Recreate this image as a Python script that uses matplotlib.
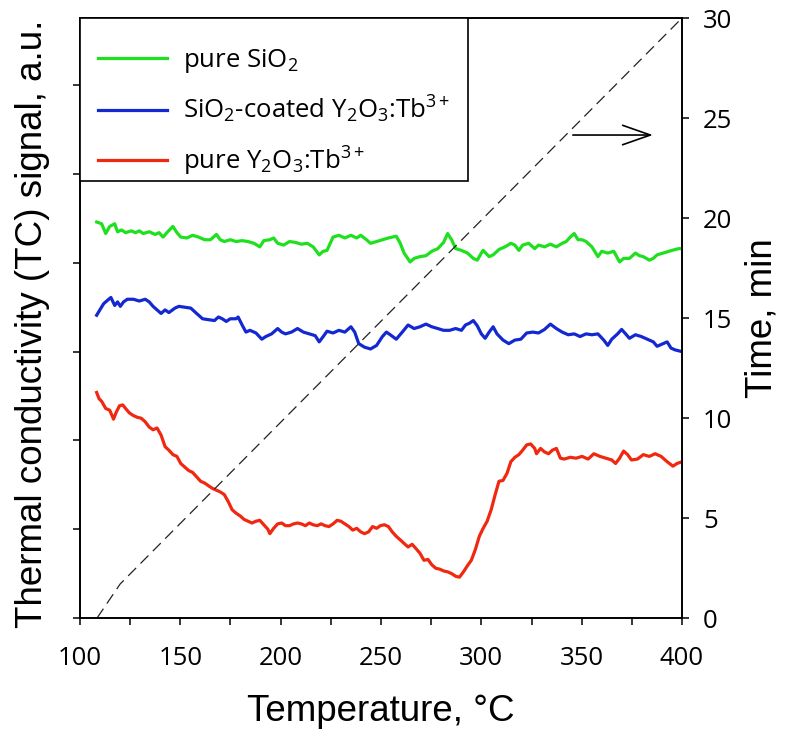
import matplotlib
matplotlib.use('Agg')
import matplotlib.pyplot as plt
from matplotlib.ticker import MultipleLocator
from matplotlib.font_manager import FontProperties
from matplotlib.path import Path

plt.rcParams['mathtext.fontset'] = 'custom'
plt.rcParams['mathtext.rm'] = 'Open Sans'
plt.rcParams['mathtext.it'] = 'Open Sans:italic'
plt.rcParams['mathtext.bf'] = 'Open Sans:bold'
plt.rcParams['mathtext.default'] = 'regular'

# ---------------- data ----------------
T_sio2 = [108.3, 110.8, 112.8, 114.8, 117.3, 118.7, 120.7, 122.7, 125.6, 127.6,
          129.6, 131.5, 134.5, 137.4, 139.4, 141.4, 143.7, 146.3, 148.3, 150.2,
          153.2, 156.1, 159.1, 162.1, 165.0, 168.0, 169.9, 171.9, 174.9, 177.8,
          180.8, 183.7, 186.7, 189.6, 191.6, 194.6, 196.5, 198.5, 201.5, 204.4,
          207.4, 210.3, 213.3, 216.2, 219.2, 221.2, 223.1, 226.1, 229.0, 232.0,
          235.0, 237.9, 239.9, 242.8, 244.8, 247.8, 250.7, 253.7, 257.6, 259.6,
          261.5, 264.5, 266.5, 269.4, 272.4, 275.3, 278.3, 281.2, 283.2, 285.2,
          287.2, 290.1, 293.1, 296.0, 298.0, 300.0, 300.9, 303.9, 305.9, 308.8,
          311.8, 314.7, 316.7, 318.7, 320.6, 323.6, 326.6, 328.5, 331.5, 334.4,
          337.4, 340.3, 342.3, 344.3, 346.3, 348.2, 350.2, 352.2, 355.1, 358.1,
          360.0, 363.0, 366.0, 368.9, 370.9, 373.8, 376.8, 378.8, 380.7, 383.7,
          385.7, 387.6, 390.6, 393.5, 396.5, 398.5, 400.0]
S_sio2 = [4.46, 4.44, 4.33, 4.41, 4.44, 4.35, 4.37, 4.34, 4.36, 4.34,
          4.36, 4.33, 4.35, 4.32, 4.34, 4.29, 4.35, 4.41, 4.34, 4.29,
          4.28, 4.31, 4.29, 4.26, 4.26, 4.32, 4.26, 4.24, 4.26, 4.24,
          4.25, 4.24, 4.22, 4.18, 4.25, 4.26, 4.28, 4.22, 4.20, 4.24,
          4.23, 4.21, 4.22, 4.18, 4.09, 4.13, 4.14, 4.29, 4.31, 4.28,
          4.31, 4.28, 4.31, 4.26, 4.22, 4.24, 4.26, 4.28, 4.30, 4.22,
          4.11, 4.01, 4.05, 4.07, 4.08, 4.13, 4.16, 4.23, 4.33, 4.26,
          4.16, 4.14, 4.11, 4.05, 4.03, 4.11, 4.14, 4.07, 4.09, 4.15,
          4.18, 4.22, 4.20, 4.14, 4.20, 4.22, 4.16, 4.20, 4.18, 4.21,
          4.18, 4.22, 4.24, 4.29, 4.33, 4.26, 4.26, 4.24, 4.18, 4.07,
          4.13, 4.11, 4.13, 4.01, 4.05, 4.05, 4.11, 4.08, 4.07, 4.03,
          4.05, 4.09, 4.11, 4.13, 4.15, 4.16, 4.16]

T_coated = [108.3, 109.9, 111.8, 113.8, 115.4, 117.3, 118.7, 120.1, 121.7, 123.6,
            126.6, 129.6, 132.5, 134.5, 136.4, 138.4, 140.4, 142.4, 144.3, 147.3,
            149.3, 152.2, 155.2, 158.1, 161.1, 164.0, 167.0, 169.0, 170.9, 172.9,
            174.9, 177.8, 178.8, 180.8, 182.7, 184.7, 187.7, 190.6, 192.6, 195.5,
            198.5, 200.5, 202.4, 205.4, 208.4, 211.3, 214.3, 217.2, 219.2, 221.2,
            223.1, 226.1, 229.0, 232.0, 235.0, 236.9, 238.9, 241.8, 244.8, 247.8,
            250.7, 252.7, 254.6, 257.6, 260.6, 263.5, 266.5, 269.4, 272.4, 275.3,
            278.3, 281.2, 284.2, 287.2, 290.1, 292.1, 294.1, 296.0, 298.0, 300.0,
            301.9, 303.9, 305.9, 307.8, 310.8, 313.7, 316.7, 319.7, 322.6, 325.6,
            328.5, 331.5, 334.4, 337.4, 340.3, 343.3, 346.3, 349.2, 352.2, 355.1,
            358.1, 361.0, 363.0, 365.0, 367.9, 369.9, 371.9, 373.8, 376.8, 379.7,
            382.7, 385.7, 387.6, 390.6, 392.6, 394.5, 396.5, 400.0]
S_coated = [3.41, 3.47, 3.54, 3.58, 3.61, 3.52, 3.56, 3.51, 3.56, 3.59,
            3.59, 3.57, 3.59, 3.56, 3.51, 3.47, 3.43, 3.47, 3.44, 3.49,
            3.51, 3.50, 3.49, 3.43, 3.37, 3.36, 3.35, 3.39, 3.37, 3.34,
            3.37, 3.37, 3.39, 3.30, 3.22, 3.24, 3.21, 3.14, 3.17, 3.20,
            3.26, 3.22, 3.20, 3.22, 3.26, 3.22, 3.20, 3.18, 3.11, 3.17,
            3.23, 3.21, 3.24, 3.22, 3.28, 3.22, 3.09, 3.05, 3.03, 3.07,
            3.17, 3.22, 3.19, 3.14, 3.22, 3.30, 3.26, 3.28, 3.31, 3.28,
            3.26, 3.24, 3.24, 3.26, 3.24, 3.30, 3.32, 3.35, 3.29, 3.20,
            3.15, 3.22, 3.28, 3.20, 3.13, 3.09, 3.13, 3.14, 3.21, 3.22,
            3.21, 3.25, 3.31, 3.26, 3.22, 3.19, 3.20, 3.17, 3.20, 3.19,
            3.20, 3.13, 3.07, 3.14, 3.20, 3.25, 3.20, 3.15, 3.19, 3.17,
            3.14, 3.11, 3.06, 3.09, 3.11, 3.04, 3.02, 3.00]

T_y2o3 = [108.3, 109.5, 110.8, 112.8, 114.8, 116.7, 118.1, 119.7, 121.3, 122.7,
          124.6, 126.6, 128.6, 130.5, 132.5, 134.5, 136.4, 138.4, 140.4, 142.4,
          144.3, 146.3, 148.3, 150.2, 152.2, 154.2, 156.1, 158.1, 160.1, 162.1,
          164.0, 166.0, 168.0, 169.9, 171.9, 173.9, 175.8, 177.8, 179.8, 181.8,
          183.7, 185.7, 187.7, 189.6, 191.6, 193.6, 194.6, 196.5, 198.5, 200.5,
          202.4, 204.4, 206.4, 208.4, 210.3, 212.3, 214.3, 216.2, 218.2, 220.2,
          222.1, 224.1, 226.1, 228.1, 230.0, 232.0, 234.0, 235.9, 237.9, 239.9,
          241.8, 243.8, 245.8, 247.8, 249.7, 251.7, 253.7, 255.6, 257.6, 259.6,
          261.5, 263.5, 265.5, 267.5, 269.4, 271.4, 273.4, 275.3, 277.3, 279.3,
          281.2, 283.2, 285.2, 287.2, 289.1, 291.1, 293.1, 295.0, 297.0, 299.0,
          300.9, 302.9, 304.9, 306.9, 308.8, 310.8, 312.8, 314.7, 316.7, 318.7,
          320.6, 322.6, 324.6, 326.6, 327.5, 329.5, 331.5, 333.5, 335.4, 337.4,
          339.4, 341.3, 344.3, 347.2, 350.2, 353.2, 356.1, 359.1, 362.0, 365.0,
          366.9, 368.9, 370.9, 372.9, 374.8, 377.8, 380.7, 383.7, 386.6, 389.6,
          392.6, 395.5, 397.5, 400.0]
S_y2o3 = [2.54, 2.47, 2.44, 2.36, 2.34, 2.24, 2.32, 2.39, 2.40, 2.36,
          2.31, 2.28, 2.26, 2.25, 2.21, 2.15, 2.12, 2.14, 2.06, 1.93,
          1.89, 1.84, 1.82, 1.74, 1.70, 1.66, 1.64, 1.59, 1.54, 1.52,
          1.49, 1.46, 1.44, 1.42, 1.39, 1.31, 1.22, 1.18, 1.15, 1.11,
          1.09, 1.07, 1.09, 1.10, 1.05, 1.00, 0.95, 1.01, 1.06, 1.07,
          1.04, 1.04, 1.06, 1.07, 1.06, 1.04, 1.07, 1.05, 1.04, 1.06,
          1.04, 1.03, 1.06, 1.10, 1.09, 1.06, 1.03, 0.99, 1.01, 0.97,
          0.95, 0.97, 1.03, 1.01, 1.04, 1.05, 1.03, 0.97, 0.92, 0.88,
          0.84, 0.80, 0.83, 0.78, 0.73, 0.65, 0.66, 0.60, 0.56, 0.55,
          0.53, 0.52, 0.50, 0.47, 0.46, 0.52, 0.59, 0.65, 0.77, 0.92,
          1.01, 1.09, 1.22, 1.39, 1.54, 1.55, 1.63, 1.76, 1.81, 1.84,
          1.89, 1.95, 1.96, 1.91, 1.85, 1.91, 1.87, 1.85, 1.89, 1.91,
          1.80, 1.79, 1.81, 1.80, 1.82, 1.79, 1.85, 1.82, 1.80, 1.78,
          1.74, 1.80, 1.88, 1.84, 1.78, 1.79, 1.84, 1.82, 1.85, 1.82,
          1.76, 1.71, 1.74, 1.76]

# heating program (right axis)
T_time = [108.5, 120.0, 400.0]
time_min = [0.0, 1.7, 30.0]

series_labels = [r'pure SiO$_2$',
                 r'SiO$_2$-coated Y$_2$O$_3$:Tb$^{3+}$',
                 r'pure Y$_2$O$_3$:Tb$^{3+}$']
series_colors = ['#1ee01e', '#1428d2', '#f0280f']

x_ticks = [100, 150, 200, 250, 300, 350, 400]
time_ticks = [0, 5, 10, 15, 20, 25, 30]
signal_ticks = [0, 1, 2, 3, 4, 5, 6]

arrow_T = (345.6, 385.5)
arrow_time = 24.15

# ---------------- figure ----------------
fig = plt.figure(figsize=(8, 7.42), dpi=100)
ax = fig.add_axes([0.1, 0.1671, 0.7525, 0.8086])
ax2 = ax.twinx()

tick_font = FontProperties(family='Open Sans', size=18.5)
label_font = FontProperties(family='Liberation Sans', size=26.5)

handles = []
for T, S, c in zip([T_sio2, T_coated, T_y2o3], [S_sio2, S_coated, S_y2o3], series_colors):
    h, = ax.plot(T, S, color=c, lw=2.3, solid_joinstyle='round')
    handles.append(h)

ax.set_xlim(100, 400)
ax.set_ylim(0, 6.757)
ax.set_xticks(x_ticks)
ax.xaxis.set_minor_locator(MultipleLocator(25))
ax.set_yticks(signal_ticks)
ax.tick_params(axis='x', which='both', direction='out', length=5, width=1.1, pad=15)
ax.tick_params(axis='y', which='both', direction='out', length=5, width=1.1, labelleft=False)
for lab in ax.get_xticklabels():
    lab.set_fontproperties(tick_font)

ax2.plot(T_time, time_min, color='#222222', lw=0.9, dashes=(9, 5))
ax2.set_ylim(0, 30)
ax2.set_yticks(time_ticks)
ax2.tick_params(axis='y', direction='out', length=5, width=1.1, pad=10)
for lab in ax2.get_yticklabels():
    lab.set_fontproperties(tick_font)

for a in (ax, ax2):
    for sp in a.spines.values():
        sp.set_linewidth(1.2)

ax.set_xlabel('Temperature, °C', fontproperties=label_font)
ax.xaxis.set_label_coords(0.5, -0.127)
ax.set_ylabel('Thermal conductivity (TC) signal, a.u.', fontproperties=label_font)
ax.yaxis.set_label_coords(-0.05, 0.49)
ax2.set_ylabel('Time, min', fontproperties=label_font, rotation=90)
ax2.yaxis.set_label_coords(1.104, 0.5)

ax2.annotate('', xy=(arrow_T[1], arrow_time), xytext=(arrow_T[0], arrow_time),
             arrowprops=dict(arrowstyle='->,head_length=1.0,head_width=0.35',
                             lw=1.2, color='black', mutation_scale=20,
                             shrinkA=0, shrinkB=0))

# legend: contents sit a little lower; frame reaches up to the axes top
TOP_EXT = 0.43      # in units of the legend font size
BOTTOM_CUT = 0.58


def legend_frame(x0, y0, width, height, mutation_size):
    top = y0 + height + TOP_EXT * mutation_size
    bottom = y0 + BOTTOM_CUT * mutation_size
    verts = [(x0, bottom), (x0 + width, bottom), (x0 + width, top),
             (x0, top), (x0, bottom)]
    return Path(verts, closed=True)


leg = ax2.legend(handles, series_labels, loc='upper left', bbox_to_anchor=(0, 0.9817),
                 borderaxespad=0, frameon=True, fancybox=False, edgecolor='black',
                 framealpha=1, prop=FontProperties(family='Open Sans', size=18.5),
                 handlelength=2.7, handletextpad=0.6, labelspacing=0.74, borderpad=0.7)
leg.get_frame().set_linewidth(1.2)
leg.get_frame().set_boxstyle(legend_frame)

fig.savefig('out.png', dpi=100)
